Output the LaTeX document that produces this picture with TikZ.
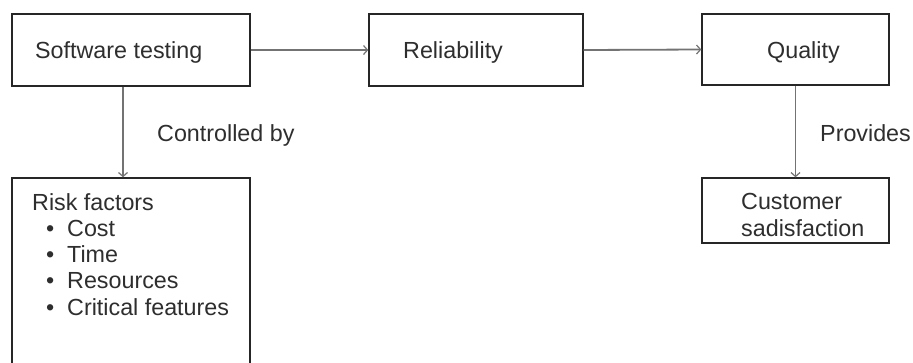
\documentclass[tikz,border=0pt]{standalone}
\usepackage{fontspec}
\setmainfont{Liberation Sans}
\usetikzlibrary{arrows.meta}
\begin{document}
\begin{tikzpicture}[x=1pt,y=-1pt,
  box/.style={draw=black!85,line width=1.4pt,rectangle,inner sep=0pt},
  conn/.style={draw=black!55,line width=1.8pt,-{Straight Barb[length=4pt,width=9pt,line width=1.2pt]}},
  txt/.style={anchor=base west,inner sep=0pt,font=\fontsize{23.3}{26}\selectfont,text=black!82}]
\useasboundingbox (0,0) rectangle (913,362);
\clip (0,0) rectangle (913,362);
\fill[white] (0,0) rectangle (913,362);
% boxes
\node[box,minimum width=238pt,minimum height=72pt] (st) at (131,50) {};
\node[box,minimum width=214pt,minimum height=72pt] (rel) at (476,50) {};
\node[box,minimum width=187pt,minimum height=71pt] (qual) at (795.5,49.5) {};
\node[box,minimum width=238pt,minimum height=220pt] (risk) at (131,288) {};
\node[box,minimum width=187pt,minimum height=65pt] (cust) at (795.5,210.5) {};
% texts
\node[txt] (t1) at (35,58) {Software testing};
\node[txt] (t2) at (403,58) {Reliability};
\node[txt] (t3) at (767,58) {Quality};
\node[txt] (t4) at (32,210) {Risk factors};
\node[txt] (b1) at (46,236) {\textbullet};
\node[txt] (i1) at (67,236) {Cost};
\node[txt] (b2) at (46,262) {\textbullet};
\node[txt] (i2) at (67,262) {Time};
\node[txt] (b3) at (46,288) {\textbullet};
\node[txt] (i3) at (67,288) {Resources};
\node[txt] (b4) at (46,315) {\textbullet};
\node[txt] (i4) at (67,315) {Critical features};
\node[txt] (c1) at (741,209) {Customer};
\node[txt] (c2) at (741,236) {sadisfaction};
\node[txt] (l1) at (157,141) {Controlled by};
\node[txt] (l2) at (820,141) {Provides};
% connectors
\draw[conn] (st.east) -- (rel.west);
\draw[conn] (rel.east) -- (qual.west);
\draw[conn] (st.south -| 123,0) -- (risk.north -| 123,0);
\draw[conn] (qual.south) -- (cust.north);
\end{tikzpicture}
\end{document}
